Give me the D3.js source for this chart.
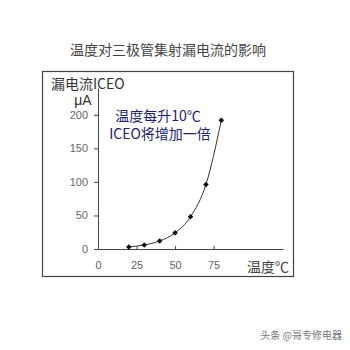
<!DOCTYPE html>
<html>
<head>
<meta charset="utf-8">
<script src="https://cdn.jsdelivr.net/npm/d3@7"></script>
<style>
  body { margin: 0; background: #fff; }
  text { font-family: "Noto Sans CJK SC", "Liberation Sans", sans-serif; }
</style>
</head>
<body>
<svg id="chart" width="350" height="350"></svg>
<script>
// temperature (°C) and leakage current ICEO (µA)
const temps = [20, 30, 40, 50, 60, 70, 80]
const iceo = [3, 6, 12, 24, 48, 96, 192]
const xTicks = [0, 25, 50, 75]
const yTicks = [0, 50, 100, 150, 200]

const svg = d3.select('#chart')

// outer frame
svg.append('rect')
  .attr('x', 42.5).attr('y', 71.5)
  .attr('width', 251).attr('height', 205)
  .attr('fill', 'none')
  .attr('stroke', '#444')
  .attr('stroke-width', 1.2)

svg.append('text')
  .attr('x', 168).attr('y', 55)
  .attr('text-anchor', 'middle')
  .attr('fill', '#444')
  .style('font-size', '14px')
  .text('温度对三极管集射漏电流的影响')

const xScale = d3.scaleLinear().domain([0, 120]).range([98, 283])
const yScale = d3.scaleLinear().domain([0, 240]).range([249, 88])

// y axis, ticks pointing out
const yAxis = svg.append('g')
  .attr('transform', 'translate(98,0)')
  .call(d3.axisLeft(yScale).tickValues(yTicks).tickSize(4).tickPadding(6).tickSizeOuter(0))
yAxis.select('.domain').attr('stroke', '#444')
yAxis.selectAll('.tick line').attr('stroke', '#444')
yAxis.selectAll('.tick text')
  .attr('fill', '#666')
  .style('font-size', '11px')
  .style('font-family', '"Liberation Sans", sans-serif')

// x axis, ticks pointing in
const xAxis = svg.append('g')
  .attr('transform', 'translate(0,249)')
  .call(d3.axisBottom(xScale).tickValues(xTicks).tickSize(-3).tickPadding(12).tickSizeOuter(0))
xAxis.select('.domain').attr('stroke', '#444')
xAxis.selectAll('.tick line').attr('stroke', '#444')
xAxis.selectAll('.tick text')
  .attr('fill', '#666')
  .style('font-size', '11px')
  .style('font-family', '"Liberation Sans", sans-serif')

// axis titles
svg.append('text')
  .attr('x', 51).attr('y', 89)
  .attr('fill', '#333')
  .style('font-size', '14px')
  .text('漏电流ICEO')
svg.append('text')
  .attr('x', 83).attr('y', 105)
  .attr('text-anchor', 'middle')
  .attr('fill', '#333')
  .style('font-size', '14px')
  .style('font-family', '"Liberation Sans", sans-serif')
  .text('μA')
svg.append('text')
  .attr('x', 268).attr('y', 272)
  .attr('text-anchor', 'middle')
  .attr('fill', '#444')
  .style('font-size', '14px')
  .text('温度℃')

// curve through the points
const pts = temps.map((t, i) => [t, iceo[i]])
svg.append('path')
  .datum(pts)
  .attr('fill', 'none')
  .attr('stroke', '#333')
  .attr('stroke-width', 1)
  .attr('d', d3.line()
    .x(d => xScale(d[0]))
    .y(d => yScale(d[1]))
    .curve(d3.curveMonotoneX))

svg.append('g')
  .selectAll('path')
  .data(pts)
  .join('path')
  .attr('d', d3.symbol(d3.symbolDiamond2, 20))
  .attr('transform', d => `translate(${xScale(d[0])},${yScale(d[1])})`)
  .attr('fill', '#111')

// annotation
svg.append('text')
  .attr('x', 158).attr('y', 121)
  .attr('text-anchor', 'middle')
  .attr('fill', '#22226e')
  .style('font-size', '14px')
  .text('温度每升10℃')
svg.append('text')
  .attr('x', 160).attr('y', 139)
  .attr('text-anchor', 'middle')
  .attr('fill', '#22226e')
  .style('font-size', '14px')
  .text('ICEO将增加一倍')

// watermark
svg.append('text')
  .attr('x', 342).attr('y', 339)
  .attr('text-anchor', 'end')
  .attr('fill', '#777')
  .style('font-size', '10px')
  .text('头条 @哥专修电器')
</script>
</body>
</html>
